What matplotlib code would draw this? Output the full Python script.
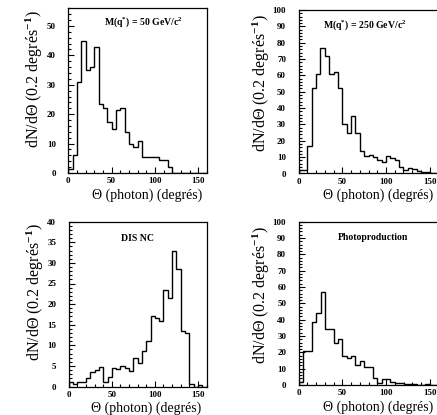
import matplotlib
matplotlib.use("Agg")
import matplotlib.pyplot as plt
from matplotlib.ticker import MultipleLocator

plt.rcParams['font.family'] = ['Liberation Serif', 'DejaVu Serif']
plt.rcParams['font.weight'] = 'bold'
plt.rcParams['mathtext.fontset'] = 'custom'
plt.rcParams['mathtext.rm'] = 'Liberation Serif'
plt.rcParams['mathtext.bf'] = 'Liberation Serif:bold'
plt.rcParams['mathtext.it'] = 'Liberation Serif:italic'

# ---- data ----
bin_edges = [0, 5, 10, 15, 20, 25, 30, 35, 40, 45, 50, 55, 60, 65, 70, 75, 80,
             85, 90, 95, 100, 105, 110, 115, 120, 125, 130, 135, 140, 145, 150, 155, 160]

theta_mq50 = [1.5, 6, 31, 45, 35, 36, 43, 23.5, 22, 17.5, 15, 21.5, 22, 14, 10, 9,
              11, 5.5, 5.5, 5.5, 5.5, 4.5, 4.5, 2, 0, 0, 0, 0, 0, 0, 0, 0]
theta_mq250 = [2, 2, 17, 52, 61, 77, 72, 61, 62, 52, 30, 25, 35, 25, 14, 11,
               11.5, 10, 8.5, 7, 11, 9.5, 8, 4, 2, 3.5, 3, 1.5, 1, 1, 0, 0]
theta_disnc = [1, 0.5, 1, 1.2, 2, 3.5, 4, 4.7, 1, 2.2, 4.4, 4.2, 5, 4.4, 3.8, 7,
               5.6, 8.5, 11, 17, 16.7, 16, 23.5, 21.5, 33, 28.5, 13.5, 13, 0.5, 0, 0.3, 0]
theta_photo = [2, 21, 21, 38.5, 44, 57, 34, 34, 25.5, 28, 18, 16.5, 18, 12, 15, 11,
               11, 4, 1.5, 3.5, 3.5, 2, 1.5, 1, 0.8, 0.5, 0.5, 0.3, 0.3, 0.5, 0, 0]

titles = [r"M(q$^{\mathbf{*}}$) = 50 GeV/c$^{\mathbf{2}}$",
          r"M(q$^{\mathbf{*}}$) = 250 GeV/c$^{\mathbf{2}}$",
          "DIS NC",
          "Photoproduction"]
series = [theta_mq50, theta_mq250, theta_disnc, theta_photo]
y_max = [56, 100, 40, 100]
y_major = [10, 10, 5, 10]
y_minor = [2, 2, 1, 2]
x_label = "Θ (photon) (degrés)"
y_label = r"dN/dΘ (0.2 degrés$^{\mathrm{-1}}$)"

# ---- layout (pixels) ----
W, H = 437, 415
fig = plt.figure(figsize=(W / 100, H / 100), dpi=100)
fig.patch.set_facecolor('white')


def rect(l, t, r, b):
    return [l / W, 1 - b / H, (r - l) / W, (b - t) / H]


boxes = [rect(68.3, 8.3, 207, 173),
         rect(298.5, 10, 438.5, 173.5),
         rect(68.8, 221.7, 206.5, 386.5),
         rect(298.7, 221.7, 438.5, 385)]
title_pos = [(0.54, 0.915), (0.47, 0.91), (0.50, 0.90), (0.53, 0.905)]
ylab_x = [-0.245, -0.265, -0.245, -0.265]
ylab_top = [0.99, 0.975, 0.99, 0.975]

for i in range(4):
    ax = fig.add_axes(boxes[i])
    ax.stairs(series[i], bin_edges, color='black', lw=1.0)
    ax.set_xlim(0, 160)
    ax.set_ylim(0, y_max[i])
    ax.xaxis.set_major_locator(MultipleLocator(50))
    ax.xaxis.set_minor_locator(MultipleLocator(10))
    ax.yaxis.set_major_locator(MultipleLocator(y_major[i]))
    ax.yaxis.set_minor_locator(MultipleLocator(y_minor[i]))
    ax.tick_params(which='both', direction='in', top=False, right=False,
                   width=0.8, colors='black')
    ax.tick_params(which='major', length=4.0, labelsize=6.5)
    ax.tick_params(which='minor', length=2.0)
    ax.tick_params(axis='y', which='major', pad=9)
    ax.tick_params(axis='x', which='major', pad=3)
    for s in ax.spines.values():
        s.set_linewidth(0.9)
    ax.text(title_pos[i][0], title_pos[i][1], titles[i], transform=ax.transAxes,
            ha='center', va='center', fontsize=7, fontweight='bold')
    # axis labels, PAW style (right/top aligned)
    ax.text(0.965, -0.135, x_label, transform=ax.transAxes, ha='right',
            va='center', fontsize=10, fontweight='normal')
    ax.text(ylab_x[i], ylab_top[i], y_label, transform=ax.transAxes, ha='center',
            va='top', rotation=90, fontsize=11.5, fontweight='normal')

fig.savefig("out.png", dpi=100)
